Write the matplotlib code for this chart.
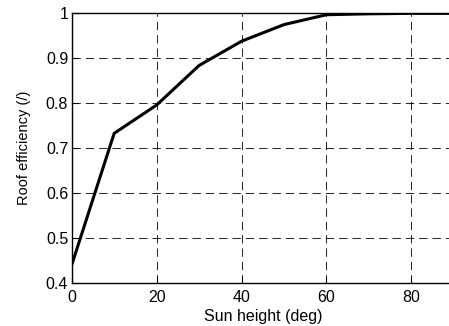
import matplotlib
matplotlib.use('Agg')
import matplotlib.pyplot as plt

# roof efficiency versus sun elevation
sunHeight = [0, 10, 20, 30, 40, 50, 60, 70, 80, 90]
efficiency = [0.44, 0.733, 0.796, 0.884, 0.938, 0.975, 0.997, 0.999, 1.0, 1.0]

plt.rcParams['font.family'] = ['Liberation Sans', 'DejaVu Sans']

fig = plt.figure(figsize=(4.49, 3.26), dpi=100)
ax = fig.add_axes([0.1597, 0.132, 0.851, 0.827])

ax.plot(sunHeight, efficiency, color='black', linewidth=2.2)

ax.set_xlim(0, 90)
ax.set_ylim(0.4, 1.0)
ax.set_xticks([0, 20, 40, 60, 80])
ax.set_yticks([0.4, 0.5, 0.6, 0.7, 0.8, 0.9, 1.0])
ax.set_yticklabels(['0.4', '0.5', '0.6', '0.7', '0.8', '0.9', '1'])
ax.tick_params(direction='in', length=4, labelsize=11.5, pad=2.5)
ax.tick_params(axis='x', pad=5)
ax.grid(True, color='black', linestyle=(0, (10, 6)), linewidth=0.6)
for s in ax.spines.values():
    s.set_linewidth(1.0)

ax.set_xlabel('Sun height (deg)', fontsize=11.5, labelpad=3)
ax.set_ylabel('Roof efficiency (/)', fontsize=10.5, labelpad=11)

plt.savefig('out.png', dpi=100)
